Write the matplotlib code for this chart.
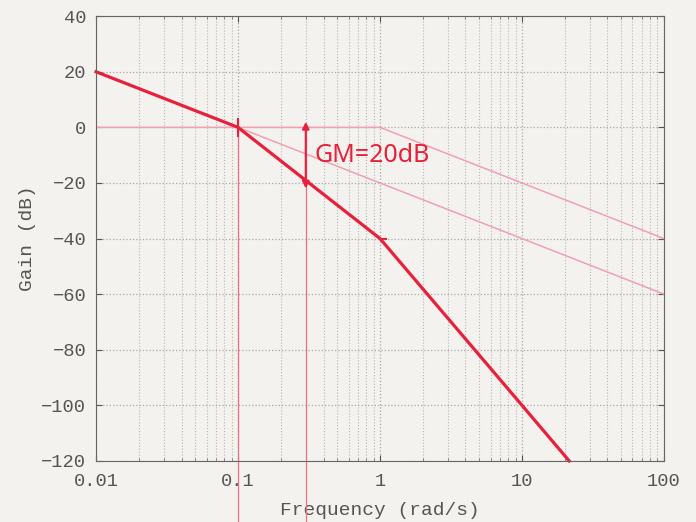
import numpy as np
import matplotlib
matplotlib.use("Agg")
import matplotlib.pyplot as plt

# asymptotic gain curve (hand drawn, bold)
w_main = [0.01, 0.1, 1.0, 10.0, 21.5]
g_main = [20, 0, -40, -100, -120]

# thin helper asymptotes
w_help1 = [0.01, 1.0, 100.0]
g_help1 = [0, 0, -40]
w_help2 = [0.1, 100.0]
g_help2 = [0, -60]

# marked frequencies and gain margin
w_marks = [0.1, 0.3]
gm_w = 0.3
gm_top, gm_bot = 0, -20
gm_text = "GM=20dB"

xticks = [0.01, 0.1, 1, 10, 100]
xtick_labels = ["0.01", "0.1", "1", "10", "100"]
yticks = [-120, -100, -80, -60, -40, -20, 0, 20, 40]

plt.rcParams['font.family'] = ['Liberation Mono', 'DejaVu Sans Mono']

fig = plt.figure(figsize=(6.96, 5.22), dpi=100, facecolor="#f3f2ee")
ax = fig.add_axes([0.138, 0.117, 0.816, 0.852])
ax.set_facecolor("#f3f2ee")

ax.set_xscale("log")
ax.set_xlim(0.01, 100)
ax.set_ylim(-120, 40)
ax.set_xticks(xticks)
ax.set_xticklabels(xtick_labels)
ax.set_yticks(yticks)
ax.tick_params(direction="in", labelsize=13.5, colors="#555555", length=4,
               top=True, right=True)
ax.tick_params(axis="y", pad=7)
ax.tick_params(axis="x", pad=9)
ax.tick_params(which="minor", direction="in", length=2, colors="#777777",
               top=True)
ax.grid(True, which="major", linestyle=":", color="#a8a8a8", linewidth=0.9)
ax.grid(True, which="minor", axis="x", linestyle=":", color="#b8b8b8", linewidth=0.8)
for s in ax.spines.values():
    s.set_color("#666666")

ax.set_xlabel("Frequency (rad/s)", fontsize=14, color="#555555", labelpad=8)
ax.set_ylabel("Gain (dB)", fontsize=14, color="#555555", labelpad=4)

pink = "#f2a0b0"
red = "#e8203c"
ax.plot(w_help1, g_help1, color=pink, lw=1.1)
ax.plot(w_help2, g_help2, color=pink, lw=1.1)

for w in w_marks:
    ax.plot([w, w], [gm_top, -145], color="#f07088", lw=0.9, clip_on=False)

ax.plot(w_main, g_main, color=red, lw=2.3, clip_on=False)

# small tick marks on the curve
ax.plot([0.1, 0.1], [-3, 3], color=red, lw=1.5)
ax.plot([1.0, 1.1], [-40, -40], color=red, lw=1.5)

ax.annotate("", xy=(gm_w, gm_top + 2), xytext=(gm_w, gm_bot - 2),
            arrowprops=dict(arrowstyle="<|-|>", color=red, lw=1.5,
                            mutation_scale=10, shrinkA=0, shrinkB=0))
ax.text(0.345, -10, gm_text, color=red, fontsize=18, family=["Noto Sans", "DejaVu Sans"],
        fontweight="light", va="center", ha="left")

fig.savefig("out.png", dpi=100, facecolor=fig.get_facecolor())
